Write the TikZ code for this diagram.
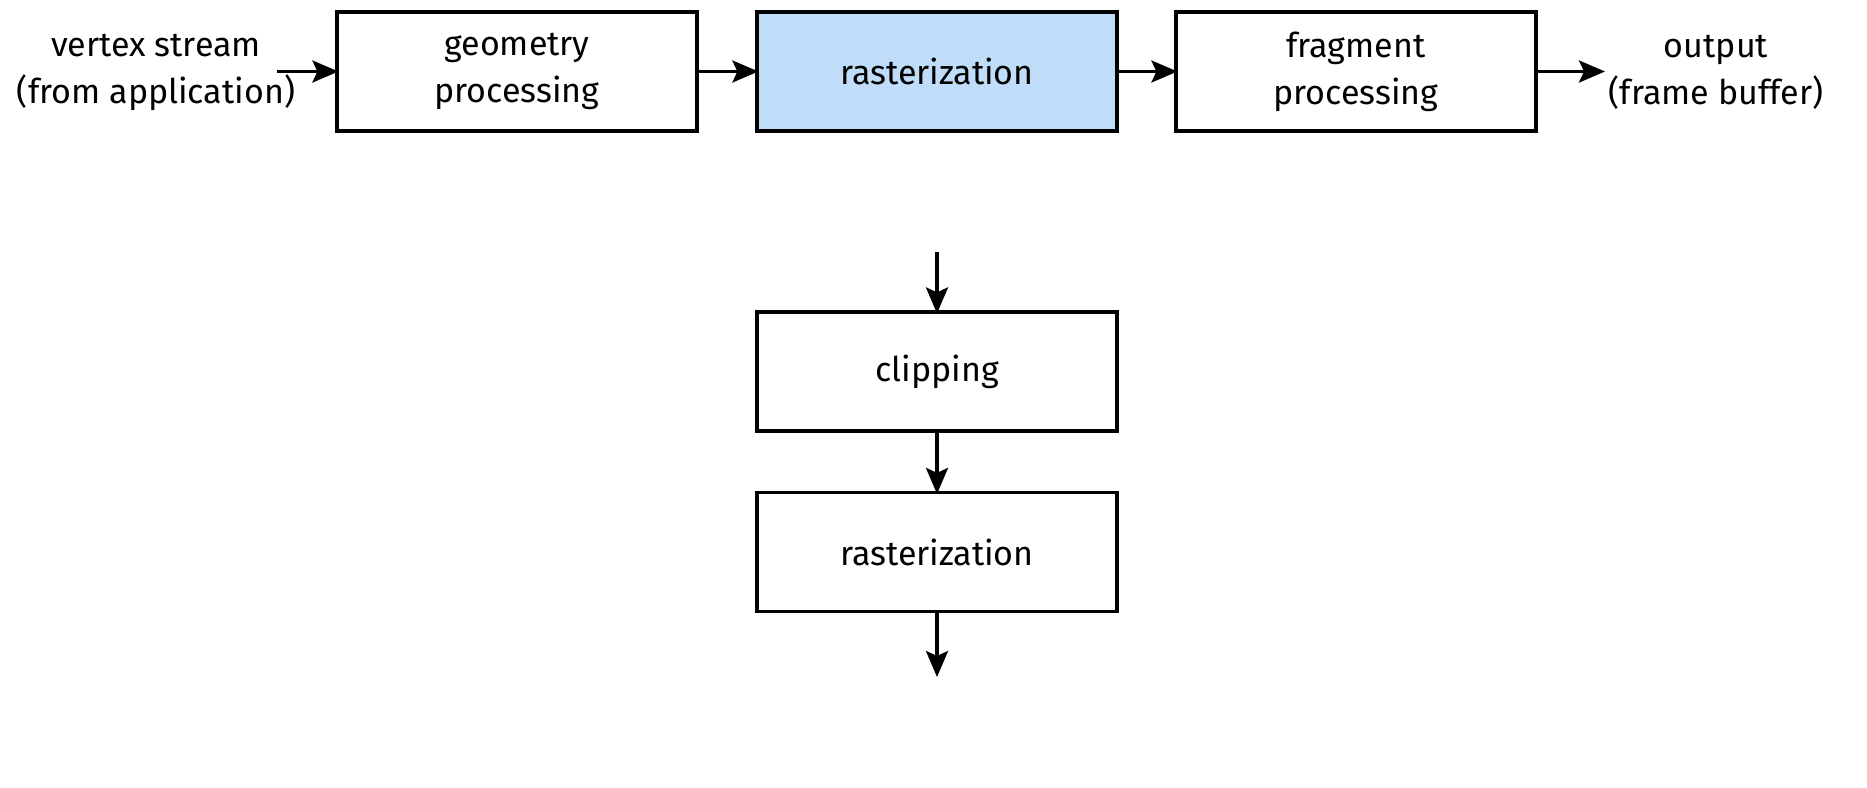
\documentclass[tikz,border=0pt]{standalone}
\usepackage{fontspec}
\setmainfont{Fira Sans}
\usetikzlibrary{arrows.meta}
\definecolor{hiblue}{RGB}{191,221,248}
\tikzset{
  stagebox/.style={draw, line width=1.6pt, minimum width=180pt, minimum height=59.5pt, inner sep=0pt, align=center, font=\fontsize{17}{23.5}\selectfont},
  plaintext/.style={align=center, inner sep=0pt, font=\fontsize{17}{23.5}\selectfont},
  arr/.style={line width=1.6pt, -{Stealth[length=13pt,width=11pt,inset=2.5pt]}, shorten >=-1.5pt}
}
\begin{document}
\begin{tikzpicture}[x=0.5pt,y=-0.5pt]
\useasboundingbox (0,0) rectangle (1867,787);
\node[stagebox] (geo) at (517,71.5) {geometry\\processing};
\node[stagebox, fill=hiblue] (rast) at (937,71.5) {rasterization};
\node[stagebox] (frag) at (1356,71.5) {fragment\\processing};
\node[plaintext] (vs) at (156,72) {vertex stream\\(from application)};
\node[plaintext] (out) at (1716,72) {output\\(frame buffer)};
\coordinate (vin) at (277,71.5);
\coordinate (vout) at (1602,71.5);
\draw[arr] (vin) -- (geo.west);
\draw[arr] (geo.east) -- (rast.west);
\draw[arr] (rast.east) -- (frag.west);
\draw[arr] (frag.east) -- (vout);
\node[stagebox] (clip) at (937,371.5) {clipping};
\node[stagebox] (rast2) at (937,552) {rasterization};
\coordinate (din) at (937,252);
\coordinate (dout) at (937,674);
\draw[arr] (din) -- (clip.north);
\draw[arr] (clip.south) -- (rast2.north);
\draw[arr] (rast2.south) -- (dout);
\end{tikzpicture}
\end{document}
